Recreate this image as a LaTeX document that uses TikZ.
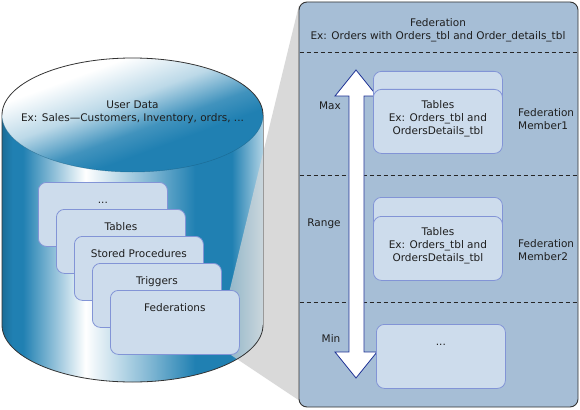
\documentclass[tikz,border=0pt]{standalone}
\usepackage{fontspec}
\setmainfont{DejaVu Sans}
\usetikzlibrary{positioning}

\definecolor{cylblue}{RGB}{32,128,178}
\definecolor{panelblue}{RGB}{166,190,214}
\definecolor{boxfill}{RGB}{205,220,236}
\definecolor{boxline}{RGB}{130,148,214}
\definecolor{arrowline}{RGB}{30,50,150}
\definecolor{shadegray}{RGB}{217,217,217}
\definecolor{txt}{RGB}{30,30,30}

\newcommand{\threedots}{...}

\pgfdeclarehorizontalshading{cylside}{100bp}{color(0bp)=(cylblue!85!black); color(25bp)=(cylblue!85!black); color(27bp)=(cylblue); color(29bp)=(cylblue); color(41bp)=(white); color(54bp)=(cylblue!60!white); color(62bp)=(cylblue); color(69bp)=(cylblue); color(75bp)=(cylblue!35!white); color(100bp)=(cylblue!35!white)}
\pgfdeclarehorizontalshading{cyltop}{100bp}{color(0bp)=(white); color(30bp)=(white); color(44bp)=(cylblue!30!white); color(56bp)=(cylblue!85!white); color(64bp)=(cylblue); color(100bp)=(cylblue)}

\begin{document}
\begin{tikzpicture}[x=1pt, y=-1pt, font=\fontsize{10.5}{13}\selectfont, text=txt,
    stackbox/.style={draw=boxline, fill=boxfill, line width=0.8pt, rounded corners=8pt,
        minimum width=129pt, minimum height=64pt, inner sep=0pt, anchor=north west},
    boxtxt/.style={inner sep=0pt, text height=7.8pt, text depth=2pt},
    sepline/.style={dash pattern=on 4pt off 3pt, line width=0.9pt, black!85}]

    \useasboundingbox (0,0) rectangle (580,409);
    \def\rx{130.5}
    \def\ry{57}

    \coordinate (P1) at (299,5);
    \coordinate (P2) at (229,293);
    \coordinate (P3) at (231,355);
    \coordinate (P4) at (300,401);
    \fill[shadegray] (P1) -- (P2) -- (P3) -- (P4) -- cycle;

    \shade[shading=cylside] (2,115) -- (2,325)
        arc[start angle=180, end angle=0, x radius=\rx, y radius=\ry] -- (263,115) -- cycle;
    \begin{scope}
        \clip (2,115) -- (2,325)
            arc[start angle=180, end angle=0, x radius=\rx, y radius=\ry] -- (263,115) -- cycle;
        \fill[shadegray, fill opacity=0.65] (P1) -- (P2) -- (P3) -- (P4) -- cycle;
    \end{scope}
    \draw[black!80, line width=0.8pt] (2,115) -- (2,325)
        arc[start angle=180, end angle=0, x radius=\rx, y radius=\ry];
    \draw[black!40, line width=0.8pt] (263,325) -- (263,115);

    \begin{scope}[transform canvas={shift={(132.5,115)}, xscale=2.2895}]
        \shade[shading=cyltop, shading angle=-50] (0,0) circle[radius=\ry];
    \end{scope}
    \draw[black!80, line width=0.8pt] (2,115)
        arc[start angle=180, end angle=360, x radius=\rx, y radius=\ry];
    \draw[cylblue!70!black, line width=0.5pt, opacity=0.5] (2,115)
        arc[start angle=180, end angle=0, x radius=\rx, y radius=\ry];

    \node[align=center] (userdata) at (132.5,112) {User Data\\Ex: Sales—Customers, Inventory, ordrs, ...};

    \foreach \name/\lbl [count=\i from 0] in {b1/\threedots, b2/Tables, b3/Stored Procedures, b4/Triggers, b5/Federations} {
        \node[stackbox] (\name) at (38+18*\i, 182+27*\i) {};
        \node[boxtxt, below=13.5pt of \name.north] (\name txt) {\lbl};
    }

    \node[draw=black!80, fill=panelblue, line width=0.9pt, rounded corners=8pt,
        minimum width=279pt, minimum height=405pt, inner sep=0pt] (fed) at (438.5,204.5) {};
    \node[align=center] (fedtitle) at (438,30.5) {Federation\\Ex: Orders with Orders\_tbl and Order\_details\_tbl};

    \draw[sepline] (299.5,52) -- (577.5,52);
    \draw[sepline] (299.5,175) -- (577.5,175);
    \draw[sepline] (299.5,302) -- (577.5,302);

    \draw[arrowline, fill=white, line width=0.8pt, line join=miter]
        (356,70) -- (377,96) -- (364,96) -- (364,352) -- (377,352) -- (356,378)
        -- (335,352) -- (349,352) -- (349,96) -- (335,96) -- cycle;

    \node (max) at (330,106) {Max};
    \node (range) at (324,224) {Range};
    \node (min) at (331,339) {Min};

    \node[stackbox] (m1back) at (373,71) {};
    \node[stackbox] (m1) at (373,89) {};
    \node[align=center] (m1txt) at ([yshift=2.3pt]m1.center) {Tables\\Ex: Orders\_tbl and\\OrdersDetails\_tbl};
    \node[align=left, anchor=west, inner sep=0pt] (fm1) at (518,119.5) {Federation\\Member1};

    \node[stackbox] (m2back) at (373,197) {};
    \node[stackbox] (m2) at (373,216) {};
    \node[align=center] (m2txt) at ([yshift=3pt]m2.center) {Tables\\Ex: Orders\_tbl and\\OrdersDetails\_tbl};
    \node[align=left, anchor=west, inner sep=0pt] (fm2) at (518,250.5) {Federation\\Member2};

    \node[stackbox] (m3) at (376,324) {};
    \node[boxtxt, below=13.5pt of m3.north] (m3txt) {\threedots};

\end{tikzpicture}
\end{document}
